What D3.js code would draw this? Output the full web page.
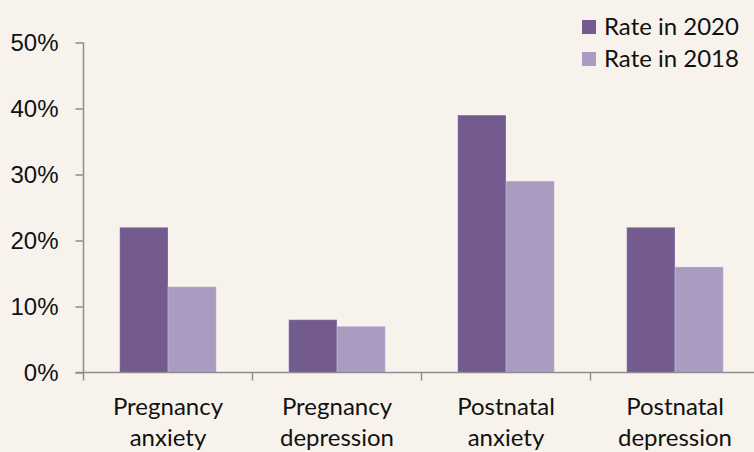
<!DOCTYPE html>
<html>
<head>
<meta charset="utf-8">
<title>Perinatal anxiety and depression rates</title>
<script src="https://cdn.jsdelivr.net/npm/d3@7"></script>
<style>
  html, body { margin: 0; padding: 0; background: #f7f3ec; }
  svg { display: block; font-family: Lato, "Open Sans", sans-serif; }
  .axis path, .axis line { stroke: #8e8e8e; stroke-width: 1.5; }
  .axis text { fill: #111; font-size: 24px; }
</style>
</head>
<body>
<svg width="754" height="452"></svg>
<script>

// data
var categories = [["Pregnancy", "anxiety"], ["Pregnancy", "depression"], ["Postnatal", "anxiety"], ["Postnatal", "depression"]];
var seriesNames = ["Rate in 2020", "Rate in 2018"];
var rate2020 = [22, 8, 39, 22];
var rate2018 = [13, 7, 29, 16];
var yTicks = [0, 10, 20, 30, 40, 50];
var colors = ["#735a8f", "#aa9bc1"];

var svg = d3.select("svg");

var plotLeft = 83.5, plotBottom = 372.5, plotTop = 42.5;
var keys = categories.map(function(c) { return c.join(" "); });

var x0 = d3.scaleBand()
    .domain(keys)
    .range([plotLeft, plotLeft + 4 * 169])
    .padding(0);

var x1 = d3.scaleBand()
    .domain(seriesNames)
    .range([0, x0.bandwidth()])
    .paddingInner(0)
    .paddingOuter(0.75);

var y = d3.scaleLinear()
    .domain([0, 50])
    .range([plotBottom, plotTop]);

var g = svg.append("g");

// bars
var series = [rate2020, rate2018];
series.forEach(function(vals, si) {
  g.selectAll(".bar" + si)
    .data(vals)
    .enter().append("rect")
      .attr("x", function(d, i) { return x0(keys[i]) + x1(seriesNames[si]); })
      .attr("y", function(d) { return y(d); })
      .attr("width", x1.bandwidth())
      .attr("height", function(d) { return plotBottom - y(d); })
      .attr("fill", colors[si])
      .attr("stroke", "rgba(255,255,255,0.25)")
      .attr("stroke-width", 1);
});

// y axis
var yAxis = svg.append("g")
    .attr("class", "axis")
    .attr("transform", "translate(" + plotLeft + ",0)")
    .call(d3.axisLeft(y).tickValues(yTicks).tickSize(8).tickSizeOuter(0).tickPadding(17)
      .tickFormat(function(d) { return d + "%"; }));
yAxis.select(".domain").remove();
yAxis.append("line").attr("y1", plotTop).attr("y2", plotBottom);

// x axis
var xAxis = svg.append("g")
    .attr("class", "axis")
    .attr("transform", "translate(0," + plotBottom + ")");
xAxis.append("line").attr("x1", plotLeft - 8).attr("x2", 754);
var tickXs = keys.map(function(k) { return x0(k); }).concat([x0.range()[1]]);
xAxis.selectAll(".tk")
  .data(tickXs)
  .enter().append("line")
    .attr("x1", function(d) { return d; })
    .attr("x2", function(d) { return d; })
    .attr("y1", 0)
    .attr("y2", 8);

var labels = svg.append("g").attr("class", "axis");
categories.forEach(function(c, i) {
  var cx = x0(keys[i]) + x0.bandwidth() / 2;
  var t = labels.append("text")
    .attr("text-anchor", "middle")
    .attr("x", cx);
  c.forEach(function(line, li) {
    t.append("tspan")
      .attr("x", cx)
      .attr("y", 415 + li * 31)
      .text(line);
  });
});

// legend
var legend = svg.append("g").attr("class", "axis");
seriesNames.forEach(function(name, i) {
  legend.append("rect")
    .attr("x", 582)
    .attr("y", 20 + i * 32)
    .attr("width", 14)
    .attr("height", 14)
    .attr("fill", colors[i]);
  legend.append("text")
    .attr("x", 604)
    .attr("y", 35 + i * 32)
    .text(name);
});

</script>
</body>
</html>
